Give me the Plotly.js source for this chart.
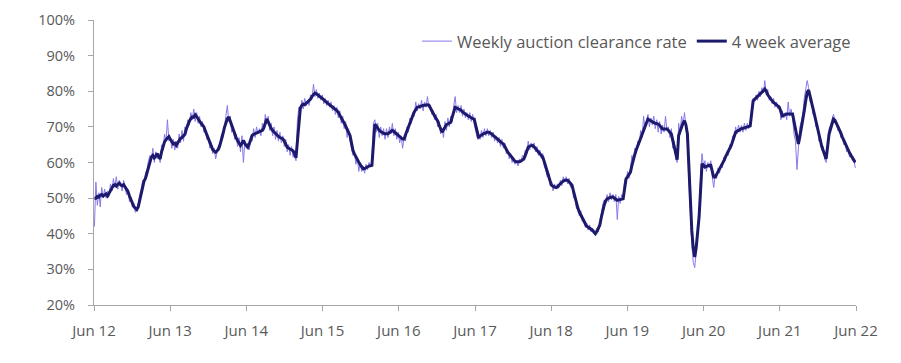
<!DOCTYPE html>
<html>
<head>
<meta charset="utf-8">
<script src="https://cdn.plot.ly/plotly-3.0.1.min.js"></script>
<style>html,body{margin:0;padding:0;background:#fff;}#chart{width:901px;height:363px;}</style>
</head>
<body>
<div id="chart"></div>
<script>
// Weekly series start date (first Sunday of June 2012), one value per week
const startDate = "2012-06-03";
const seriesNames = ["Weekly auction clearance rate", "4 week average"];
const tickDates = ["2012-06-01","2013-06-01","2014-06-01","2015-06-01","2016-06-01","2017-06-01","2018-06-01","2019-06-01","2020-06-01","2021-06-01","2022-06-01"];
const tickLabels = ["Jun 12","Jun 13","Jun 14","Jun 15","Jun 16","Jun 17","Jun 18","Jun 19","Jun 20","Jun 21","Jun 22"];
const yTickVals = [20,30,40,50,60,70,80,90,100];
const yTickLabels = ["20%","30%","40%","50%","60%","70%","80%","90%","100%"];

const weeklyRate = [
42,54.5,48,51.5,47.5,53,50,52.5,50,52,
50.5,54,52,55.5,53,56,52.5,55,54,52,
55,53,51,52.5,49,50,47.5,48.5,46,47,
48.5,51,52.5,55,54,57,58,60.5,62,61,
64,60,63,61,62.5,60,65,63.5,68,66,
72,66,67,64,66.5,63.5,66,64,68,65.5,
69,66,70,68.5,72,70.5,74,72,75,71.5,
74,71,73,70,71.5,68.5,69.5,66.5,67.5,64,
65.5,62.5,64,61,63.5,65,64.5,68,67,71,
73,76,71.5,73,68.5,70,66.5,68,64.5,67,
63,67.5,60,66,64,65.5,63.5,67.5,66,69.5,
67,70,68,69.5,67.5,71,69,73.5,71,73,
69,71,67.5,70,66.5,69,66,68.5,65.5,67.5,
64.5,66.5,63,65,62,64.5,61.5,63,60.5,72,
75.5,74,77.5,75,78,76,77.5,76,79,78,
82,78.5,80.5,78,79.5,77.5,79,76.5,78,76,
77.5,75.5,77,74.5,76,73.5,75.5,72.5,74.5,71,
73,69.5,71.5,67,69.5,66,64,62,63,59.5,
61.5,57.5,60,57.5,59,57,59.5,58,60,59,
60,71,72,68.5,71,67,70,67.5,69.5,66.5,
69.5,67,70,68,71,67.5,69.5,66.5,68.5,65.5,
67.5,64,67,66,70,68.5,72.5,71,74,73,
77,74.5,76.5,75,77.5,74.5,77,75.5,78.5,75.5,
76,73.5,74.5,72,73.5,70,71.5,68,69.5,67,
71.5,69,72.5,70,73,71.5,76,78.5,74,76,
74,76,73,75,72.5,74,72,74,71.5,73.5,
71,69,67,68,66.5,69,67,69.5,67.5,69.5,
67.5,69,67,68.5,66,67.5,65.5,67,64.5,66.5,
64,65.5,62.5,63.5,61,62.5,60,61.5,59.5,60.5,
59,61,60,62,61.5,63.5,62.5,66,63.5,65.5,
64,65.5,63,64.5,62,63.5,61,62.5,59,58,
56,57,53.5,54.5,52,54,52.5,54,53,55,
53.5,56,54.5,56,54,55.5,53,54,50,50.5,
47,48,45,46.5,43.5,44,42,43,41,42.5,
40.5,41.5,40,40.5,41.5,40.5,43.5,46,48,49.5,
48.5,51,49,51.5,49.5,51,49,51,44,50.5,
48.5,51,50,55,54,57.5,55.5,58,62,60,
64,62.5,66,65,69,67,73,69.5,72,73.5,
70,72.5,70.5,73,69.5,72,68.5,71.5,68,70.5,
68.5,73,69,70,67,69.5,64,66,61,60,
71,68,73,70.5,74,70,66,55,45,37,
32,30.5,35,41,46,56,62.5,59,60.5,57.5,
60,58.5,60.5,56,53,56.5,55.5,58.5,57,59.5,
58.5,61.5,60.5,63,62,65,64,67.5,66.5,70,
68,70.5,68.5,70.5,68.5,71,69,71,69.5,71,
75.5,78,77,79,77.5,80,78.5,81,79.5,83,
79,80.5,77.5,78.5,76.5,78,75.5,77,75,76,
72,74.5,72.5,74,72,77,73,75,72.5,68,
66,58,64,70,71.5,73.5,78,80,83,81,
77,78,73.5,74.5,70,71,66,67,63.5,64.5,
61,60,66,69.5,70.5,72.5,73.5,72,71.5,69,
70,67,67.5,65,66,63,64,61.5,62.5,60.5,
60.5,58.5
];

const fourWeekAvg = [
50,50,50.5,50.3,50.8,51,50.6,50.9,51.2,50.6,
51.3,52.2,53,53.6,53.8,53.4,53.9,54.2,53.7,53.5,
53.8,53.2,52.6,51.8,50.6,49.5,48.4,47.6,47.2,46.8,
47.5,49.5,51.5,53.3,54.8,55.6,57,58.8,60.5,61.5,
62,61.3,61.8,62.5,61.6,61,63,64.5,65.8,66.4,
67,67.3,66.5,65.8,65.2,65.4,64.8,65.5,66.3,66.8,
67,67.6,67.9,69.5,70.8,71.6,72.3,72.8,72.7,73.4,
72.9,72.4,71.6,71,70.6,70,68.8,67.8,66.5,65.4,
64.3,63.6,63.2,62.9,63.3,63.8,65,66.3,68,69.8,
71.4,72.3,72.8,71.5,70.2,69,67.8,67,66.2,65.5,
64.8,65.4,66.2,65.3,64.7,64.3,65.2,66.4,67.6,67.9,
68.1,68.3,68.5,68.7,68.9,69,69.8,71,72.2,71.4,
70.3,69.6,69,68.5,68.1,67.6,67.3,67,66.8,66.6,
66,65.2,64.3,64,63.8,63.5,63.3,62.5,61.3,66,
71.5,75.3,76,76.4,76.2,76.6,77,77.3,77.8,78.6,
79.2,79.5,79.3,78.9,78.6,78.3,78,77.7,77.3,76.9,
76.5,76.2,75.9,75.6,75.3,75,74.6,74,73.3,72.6,
71.8,71,70.3,69.3,68.3,67.6,65.5,63.4,62.4,61.5,
60.8,60.1,59.4,58.7,58.2,58.3,58.6,58.9,59,59.1,
59.2,65,70.8,70.2,69.4,69,68.7,68.4,68.2,68.1,
68,68.1,68.4,68.7,69,68.7,68.3,68,67.6,67.2,
66.9,66.6,66.6,67.8,69,70,71.1,72.2,73.2,74.2,
75,75.5,75.6,75.8,75.9,76,76.1,76.2,76.2,76.1,
75.2,74.5,73.8,73,72.3,71.7,70.5,69.4,68.5,69.2,
70,70.6,70.8,71,71.3,72.8,74.3,75.5,75.3,75.1,
74.9,74.7,74.2,73.8,73.6,73.3,73,72.7,72.5,72.3,
72.2,70.2,68.2,67.1,67.4,67.8,68,68.2,68.4,68.5,
68.5,68.3,68,67.6,67.3,66.9,66.5,66.2,65.8,65.5,
65.2,64.5,63.6,62.9,62.4,61.9,61.2,60.6,60.3,60.2,
60.1,60.2,60.4,60.7,61,62,63.2,64.3,64.6,64.8,
64.8,64.4,63.9,63.4,62.9,62.3,61.9,61.5,60.2,58.7,
57.3,56,54.8,53.6,53.3,53.1,53,53.1,53.6,54,
54.5,54.8,55,55,55,54.6,54.1,53.6,52,50.2,
48.4,47.2,46.1,45.2,44.3,43.4,42.7,42.1,41.9,41.6,
41.4,41,40.5,40,40.6,41.4,42.4,44.5,46.6,48,
49.2,49.8,50,50.2,50.3,50.3,50,49.7,49.4,49.5,
49.6,49.7,49.8,52.6,55.4,56,56.7,57.3,59.2,61,
62.3,63.6,64.8,66,67.1,68,69,70.1,71.2,72.2,
71.9,71.6,71.3,71.2,71,70.9,70.8,70.4,69.9,69.4,
69.4,69.4,69.4,69,68.5,68,66.2,64.3,62.5,60.8,
67.6,69,70.3,71.1,71.7,70.5,68,58,49.4,41,
36,33.5,36,40,44.7,52,59.6,59.3,58.7,58.9,
59.1,59.2,59.2,57.5,55.9,55.9,56.6,57.3,58,58.7,
59.6,60.5,61.5,62.3,63.2,64,64.8,66,67.3,68.5,
68.8,69.1,69.4,69.5,69.6,69.7,69.9,70,70.1,70.3,
73.8,77.3,77.7,78.1,78.4,78.7,79.2,79.7,80.1,80.6,
80,79,78.3,77.8,77.3,76.9,76.6,76.2,75.9,75.5,
74.3,73.1,73.3,73.5,73.6,73.6,73.7,73.6,73.6,71.3,
69,67,65.2,67.3,69.5,71.7,74.5,77.3,79.7,80.3,
78.3,76.8,75.1,73.4,71.7,69.7,67.7,65.7,64.5,63.3,
62.1,61,64.5,68,69.4,70.8,72.2,71.9,71.1,70.2,
69.4,68.3,67.2,66.2,65.3,64.3,63.4,62.7,62,61.3,
60.6,60
];

function weekDates(n) {
  const out = [];
  const d0 = new Date(startDate + "T00:00:00Z");
  for (let i = 0; i < n; i++) {
    const d = new Date(d0.getTime() + i * 7 * 86400000);
    out.push(d.toISOString().slice(0, 10));
  }
  return out;
}

const xW = weekDates(weeklyRate.length);
const xA = weekDates(fourWeekAvg.length);

const FONT = "Open Sans, Lato, sans-serif";
const traces = [
  {
    x: xW, y: weeklyRate, type: "scatter", mode: "lines",
    name: seriesNames[0],
    line: {color: "#8679ec", width: 1},
    hoverinfo: "skip"
  },
  {
    x: xA, y: fourWeekAvg, type: "scatter", mode: "lines",
    name: seriesNames[1],
    line: {color: "#1d1a6c", width: 3},
    hoverinfo: "skip"
  }
];

const layout = {
  width: 901, height: 363,
  margin: {l: 94, r: 45, t: 20, b: 58, pad: 0},
  paper_bgcolor: "#ffffff",
  plot_bgcolor: "#ffffff",
  font: {family: FONT, color: "#595959", size: 14},
  showlegend: true,
  legend: {
    orientation: "h",
    x: 1.0, xanchor: "right",
    y: 0.925, yanchor: "middle",
    font: {family: FONT, size: 16.5, color: "#595959"},
    bgcolor: "rgba(0,0,0,0)",
    itemwidth: 30,
    tracegroupgap: 0
  },
  xaxis: {
    type: "date",
    range: ["2012-06-01", "2022-06-01"],
    tickmode: "array",
    tickvals: tickDates,
    ticktext: tickLabels,
    showgrid: false,
    zeroline: false,
    showline: true,
    linecolor: "#a6a6a6",
    linewidth: 1,
    ticks: "outside",
    ticklen: 5,
    tickcolor: "#a6a6a6",
    tickfont: {family: FONT, size: 15, color: "#595959"},
    ticklabelstandoff: 7,
    fixedrange: true
  },
  yaxis: {
    range: [20, 100],
    tickmode: "array",
    tickvals: yTickVals,
    ticktext: yTickLabels,
    showgrid: false,
    zeroline: false,
    showline: true,
    linecolor: "#a6a6a6",
    linewidth: 1,
    ticks: "outside",
    ticklen: 5,
    tickcolor: "#a6a6a6",
    tickfont: {family: FONT, size: 14.5, color: "#595959"},
    ticklabelstandoff: 10,
    fixedrange: true
  }
};

Plotly.newPlot("chart", traces, layout, {staticPlot: true, displayModeBar: false});
</script>
</body>
</html>
